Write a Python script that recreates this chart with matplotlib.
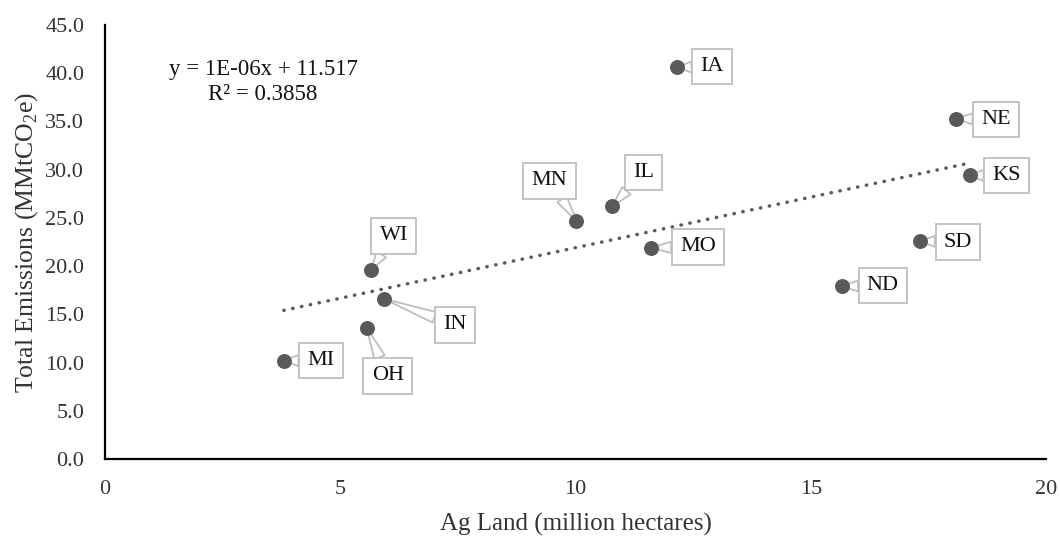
import numpy as np
import matplotlib
matplotlib.use("Agg")
import matplotlib.pyplot as plt

plt.rcParams['font.family'] = ['Liberation Serif', 'DejaVu Serif']
plt.rcParams['mathtext.fontset'] = 'custom'
plt.rcParams['mathtext.rm'] = 'Liberation Serif'

# Ag land (million ha) vs total emissions (MMtCO2e) by state
states = ['MI', 'OH', 'WI', 'IN', 'MN', 'IL', 'IA', 'MO', 'NE', 'KS', 'SD', 'ND']
ag_land = [3.80, 5.56, 5.65, 5.93, 10.02, 10.78, 12.16, 11.60, 18.09, 18.38, 17.32, 15.66]
emissions = [10.2, 13.6, 19.6, 16.6, 24.7, 26.2, 40.6, 21.9, 35.3, 29.4, 22.6, 17.9]

# callout offsets (pixels) from each point
label_dx = [37, 21, 23, 71, -27, 31, 35, 47, 40, 37, 38, 41]
label_dy = [0, -48, 34, -26, 40, 34, 1, 1, -1, 0, -1, 1]

grey = '#595959'

fig = plt.figure(figsize=(10.6, 5.37), dpi=100)
ax = fig.add_axes([0.0991, 0.1453, 0.8877, 0.8081])

ax.scatter(ag_land, emissions, s=95, color=grey, zorder=5)

# linear trend line over the data range
coef = np.polyfit(ag_land, emissions, 1)
xs = np.array([min(ag_land), max(ag_land)])
ax.plot(xs, np.polyval(coef, xs), color=grey, lw=2.5, linestyle=(0, (0.1, 2.5)),
        dash_capstyle='round', zorder=3)

for name, x, y, dx, dy in zip(states, ag_land, emissions, label_dx, label_dy):
    ax.annotate(name, (x, y), xytext=(dx, dy), textcoords='offset pixels',
                ha='center', va='center', fontsize=16, color='#111111',
                bbox=dict(boxstyle='square,pad=0.37', fc='white', ec='#bfbfbf', lw=1.3),
                arrowprops=dict(arrowstyle='wedge,tail_width=0.5,shrink_factor=0.5',
                                fc='white', ec='#bfbfbf', lw=1.3,
                                shrinkA=0, shrinkB=0),
                zorder=4)

ax.text(3.36, 39.1, 'y = 1E-06x + 11.517\nR² = 0.3858', ha='center', va='center',
        multialignment='center', fontsize=16.5, color='#111111', linespacing=1.2)

ax.set_xlim(0, 20)
ax.set_ylim(0, 45)
ax.set_xticks([0, 5, 10, 15, 20])
ax.set_yticks(np.arange(0, 46, 5))
ax.set_yticklabels([f'{v:.1f}' for v in np.arange(0, 46, 5)])
ax.tick_params(length=0, labelsize=16, colors='#333333', pad=15)
ax.tick_params(axis='x', pad=15)

for side in ['top', 'right']:
    ax.spines[side].set_visible(False)
for side in ['left', 'bottom']:
    ax.spines[side].set_linewidth(1.6)
    ax.spines[side].set_color('black')

ax.set_xlabel('Ag Land (million hectares)', fontsize=18, color='#333333', labelpad=10)
ax.set_ylabel(r'Total Emissions (MMtCO$_{\mathregular{2}}$e)', fontsize=18.5,
              color='#333333', labelpad=4)

fig.savefig('out.png', dpi=100)
